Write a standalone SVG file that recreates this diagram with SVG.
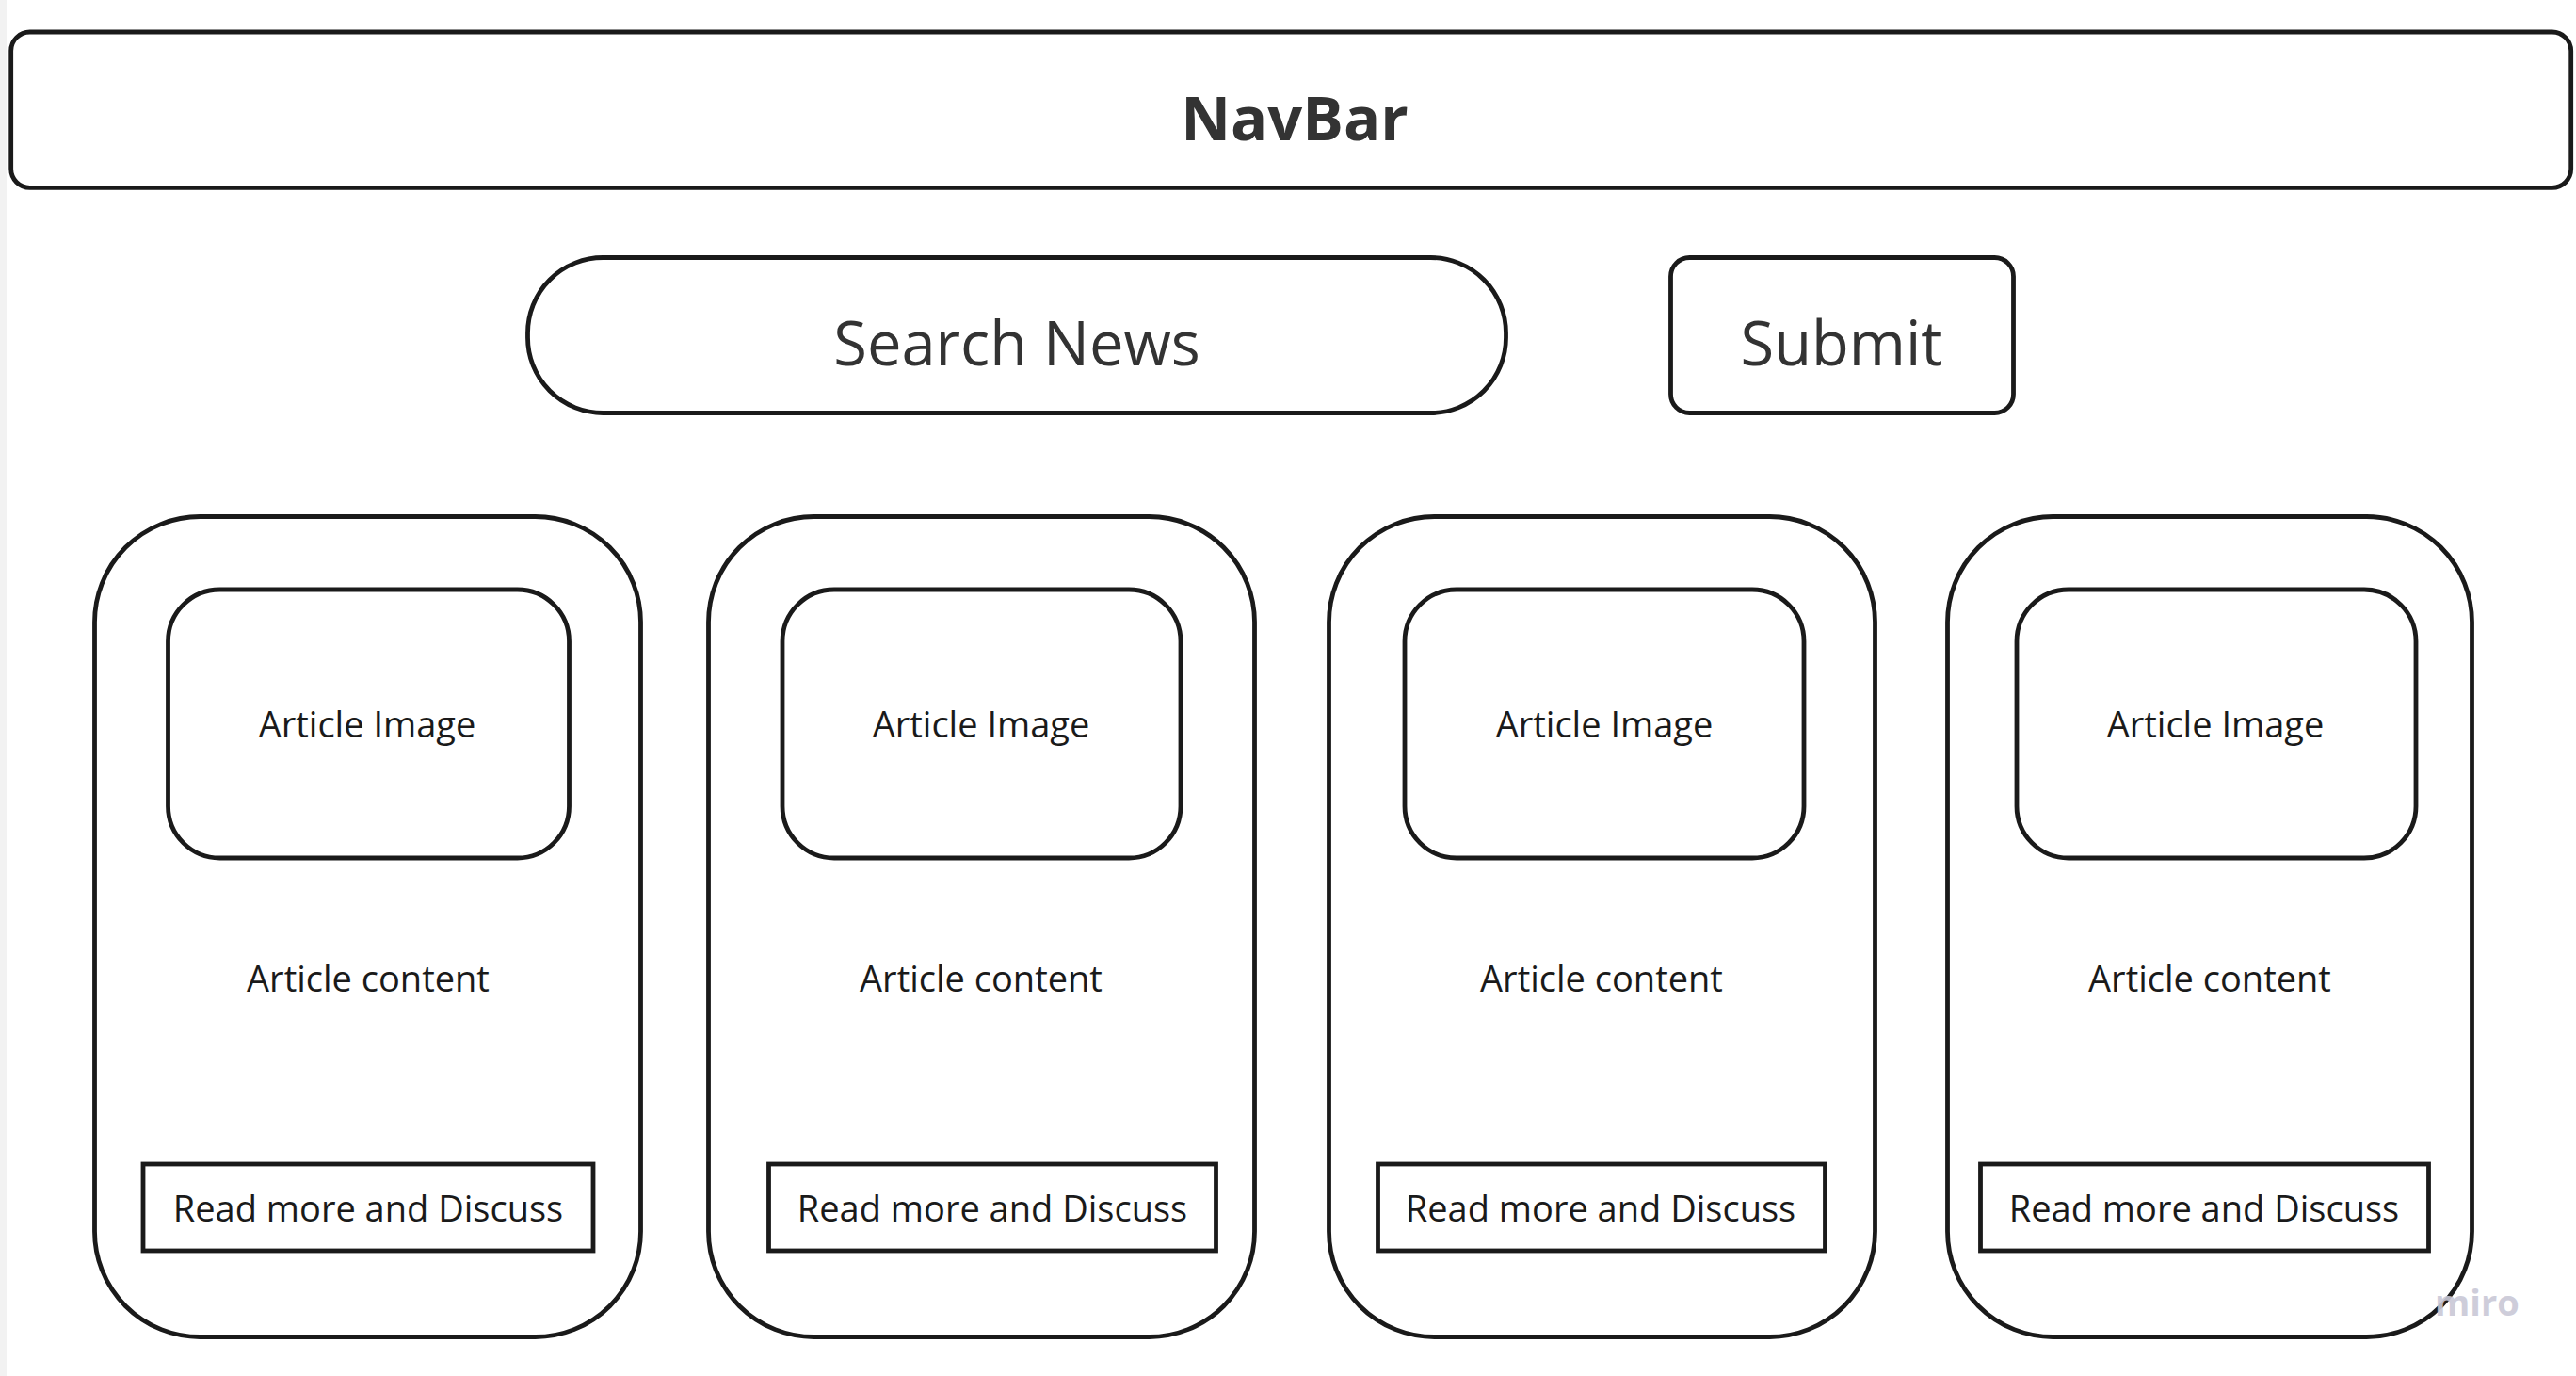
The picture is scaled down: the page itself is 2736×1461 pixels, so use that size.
<svg xmlns="http://www.w3.org/2000/svg" width="2736" height="1461" viewBox="0 0 2736 1461">
<style>
.box{fill:#ffffff;stroke:#1a1a1a;stroke-width:4.8}
.big{font-family:"Open Sans","Liberation Sans",sans-serif;font-size:65px;fill:#333333;text-anchor:middle}
.sm{font-family:"Open Sans","Liberation Sans",sans-serif;font-size:38px;fill:#1a1a1a;text-anchor:middle}
.miro{font-family:"Open Sans","Liberation Sans",sans-serif;font-size:38px;font-weight:bold;fill:#c9c8d6}
</style>
<rect x="0" y="0" width="2736" height="1461" fill="#ffffff"/>
<rect x="0" y="0" width="7" height="1461" fill="#f2f2f2"/>
<g id="navbar">
<rect class="box" x="11.7" y="34" width="2719" height="165.3" rx="20"/>
<text class="big" x="1375" y="149" font-weight="bold">NavBar</text>
</g>
<g id="search">
<rect class="box" x="560.5" y="273.5" width="1039" height="165" rx="80"/>
<text class="big" x="1080" y="388">Search News</text>
</g>
<g id="submit">
<rect class="box" x="1774.5" y="273.5" width="364" height="165" rx="20"/>
<text class="big" x="1956" y="388">Submit</text>
</g>
<g id="card1">
<rect class="box" x="100.5" y="548.5" width="580" height="871" rx="112"/>
<rect class="box" x="178.5" y="626" width="426" height="285" rx="55"/>
<text class="sm" x="390" y="783">Article Image</text>
<text class="sm" x="391" y="1053">Article content</text>
<rect class="box" x="152" y="1236" width="478" height="92"/>
<text class="sm" x="391" y="1297">Read more and Discuss</text>
</g>
<g id="card2">
<rect class="box" x="752.5" y="548.5" width="580" height="871" rx="112"/>
<rect class="box" x="831" y="626" width="423" height="285" rx="55"/>
<text class="sm" x="1042" y="783">Article Image</text>
<text class="sm" x="1042" y="1053">Article content</text>
<rect class="box" x="816.5" y="1236" width="475" height="92"/>
<text class="sm" x="1054" y="1297">Read more and Discuss</text>
</g>
<g id="card3">
<rect class="box" x="1411.5" y="548.5" width="580" height="871" rx="112"/>
<rect class="box" x="1492" y="626" width="424" height="285" rx="55"/>
<text class="sm" x="1704" y="783">Article Image</text>
<text class="sm" x="1701" y="1053">Article content</text>
<rect class="box" x="1463.5" y="1236" width="475" height="92"/>
<text class="sm" x="1700" y="1297">Read more and Discuss</text>
</g>
<g id="card4">
<rect class="box" x="2068.5" y="548.5" width="557" height="871" rx="112"/>
<rect class="box" x="2142" y="626" width="424" height="285" rx="55"/>
<text class="sm" x="2353" y="783">Article Image</text>
<text class="sm" x="2347" y="1053">Article content</text>
<rect class="box" x="2103.5" y="1236" width="476" height="92"/>
<text class="sm" x="2341" y="1297">Read more and Discuss</text>
</g>
<g id="connectors"></g>
<text class="miro" x="2586" y="1397" opacity="0.9">miro</text>
</svg>
